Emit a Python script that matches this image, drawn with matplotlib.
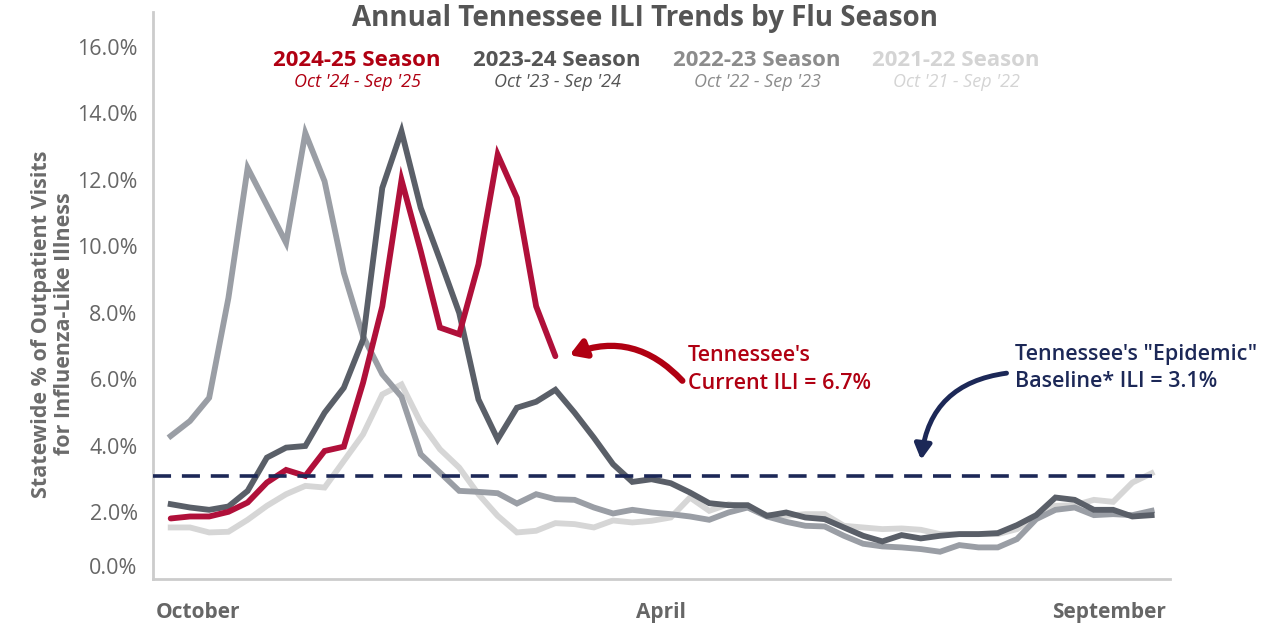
import numpy as np
import matplotlib
matplotlib.use("Agg")
import matplotlib.pyplot as plt

plt.rcParams['font.family'] = ['Open Sans', 'DejaVu Sans']

# weekly ILI % (week 40 .. week 39)
weeks = np.arange(52)

s2425 = [1.82, 1.88, 1.88, 2.02, 2.30, 2.90, 3.28, 3.10, 3.85, 3.98, 5.90, 8.20,
         12.0, 9.86, 7.56, 7.36, 9.46, 12.76, 11.46, 8.20, 6.70]

s2324 = [2.25, 2.15, 2.08, 2.18, 2.65, 3.65, 3.95, 4.00, 5.00, 5.75, 7.20, 11.76,
         13.46, 11.16, 9.60, 8.00, 5.40, 4.20, 5.15, 5.33, 5.69, 5.00, 4.25, 3.45,
         2.92, 3.00, 2.88, 2.60, 2.28, 2.22, 2.22, 1.90, 2.00, 1.85, 1.80, 1.55,
         1.30, 1.13, 1.32, 1.22, 1.30, 1.35, 1.35, 1.38, 1.62, 1.92, 2.45, 2.38,
         2.08, 2.08, 1.88, 1.92]

s2223 = [4.30, 4.75, 5.45, 8.45, 12.36, 11.24, 10.11, 13.41, 11.96, 9.21, 7.30, 6.16,
         5.48, 3.75, 3.20, 2.65, 2.62, 2.58, 2.27, 2.55, 2.40, 2.38, 2.15, 1.97,
         2.08, 2.00, 1.95, 1.88, 1.78, 2.00, 2.15, 1.88, 1.72, 1.60, 1.58, 1.30,
         1.06, 0.98, 0.95, 0.90, 0.82, 1.02, 0.95, 0.95, 1.20, 1.80, 2.08, 2.15,
         1.92, 1.95, 1.92, 2.05]

s2122 = [1.55, 1.55, 1.40, 1.42, 1.78, 2.20, 2.55, 2.80, 2.75, 3.55, 4.35, 5.55,
         5.85, 4.70, 3.90, 3.35, 2.55, 1.90, 1.40, 1.45, 1.68, 1.65, 1.55, 1.76,
         1.70, 1.75, 1.85, 2.45, 2.05, 2.25, 2.15, 1.92, 1.90, 1.95, 1.95, 1.60,
         1.55, 1.50, 1.52, 1.48, 1.35, 1.35, 1.35, 1.35, 1.50, 1.90, 2.20, 2.22,
         2.38, 2.32, 2.90, 3.18]

baseline = 3.1
current = 6.7

seasons = ['2024-25 Season', '2023-24 Season', '2022-23 Season', '2021-22 Season']
ranges = ["Oct '24 - Sep '25", "Oct '23 - Sep '24", "Oct '22 - Sep '23", "Oct '21 - Sep '22"]
label_colors = ['#b00012', '#555555', '#8c8c8c', '#d4d4d4']
sub_colors = ['#b00012', '#555555', '#8c8c8c', '#d4d4d4']

month_labels = ['October', 'April', 'September']
month_pos = [1.4, 25.5, 48.8]

yticks = [0, 2, 4, 6, 8, 10, 12, 14, 16]

fig = plt.figure(figsize=(12.73, 6.25), dpi=100)
ax = fig.add_axes([0.1202, 0.0736, 0.7988, 0.9072])

ax.plot(weeks, s2122, color='#d6d6d6', lw=4.2, solid_joinstyle='miter', zorder=2)
ax.plot(weeks, s2223, color='#9a9ea5', lw=4.2, solid_joinstyle='miter', zorder=3)
ax.plot(weeks, s2324, color='#5a5f68', lw=4.2, solid_joinstyle='miter', zorder=4)
ax.plot(weeks[:len(s2425)], s2425, color='#b0103a', lw=4.2, solid_joinstyle='miter',
        solid_capstyle='round', zorder=5)

ax.plot([-0.9, 51], [baseline, baseline], color='#1c2857', lw=2.6,
        dashes=(5, 3), zorder=6)

ax.set_xlim(-0.92, 51.95)
ax.set_ylim(0, 17.05)
ax.set_yticks(yticks)
ax.set_yticklabels(['%.1f%%' % v for v in yticks], color='#666666', fontsize=15.5)
ax.get_yticklabels()[0].set_verticalalignment('bottom')
ax.tick_params(axis='y', length=0, pad=11)
ax.set_xticks([])
for s in ['top', 'right']:
    ax.spines[s].set_visible(False)
for s in ['left', 'bottom']:
    ax.spines[s].set_color('#cccccc')
    ax.spines[s].set_linewidth(2)

ax.set_ylabel('Statewide % of Outpatient Visits\nfor Influenza-Like Illness',
              fontsize=15.5, fontweight='bold', color='#6b6b6b',
              linespacing=1.1)
ax.yaxis.set_label_coords(-0.077, 0.45)

for lab, pos in zip(month_labels, month_pos):
    ax.text(pos, -1.0, lab, ha='center', va='center', fontsize=15,
            fontweight='bold', color='#666666', clip_on=False)

fig.text(0.507, 0.97, 'Annual Tennessee ILI Trends by Flu Season', ha='center',
         va='center', fontsize=20, fontweight='bold', color='#555555')

centers = [357, 557, 757, 956]
for name, rng, c, cs, cx in zip(seasons, ranges, label_colors, sub_colors, centers):
    fig.text(cx / 1273, 1 - 60 / 625, name, ha='center', va='center', fontsize=16,
             fontweight='bold', color=c)
    fig.text(cx / 1273, 1 - 82 / 625, rng, ha='center', va='center', fontsize=13,
             fontstyle='italic', color=cs)

ax.text(26.9, 6.3, "Tennessee's\nCurrent ILI = %.1f%%" % current, ha='left',
        va='center', fontsize=15.5, fontweight='semibold', color='#b00012',
        linespacing=1.4)
ax.text(43.9, 6.35, 'Tennessee\'s "Epidemic"\nBaseline* ILI = %.1f%%' % baseline,
        ha='left', va='center', fontsize=15.5, fontweight='semibold', color='#1c2857',
        linespacing=1.4)

ax.annotate('', xy=(20.6, 6.7), xytext=(26.7, 5.9),
            arrowprops=dict(arrowstyle='-|>,head_length=0.9,head_width=0.55',
                            color='#b00012', lw=4.5,
                            connectionstyle='arc3,rad=0.35'))
ax.annotate('', xy=(39.0, 3.5), xytext=(43.6, 6.2),
            arrowprops=dict(arrowstyle='-|>,head_length=0.9,head_width=0.5',
                            color='#1c2857', lw=3.5,
                            connectionstyle='arc3,rad=0.4'))

fig.savefig('out.png', dpi=100)
